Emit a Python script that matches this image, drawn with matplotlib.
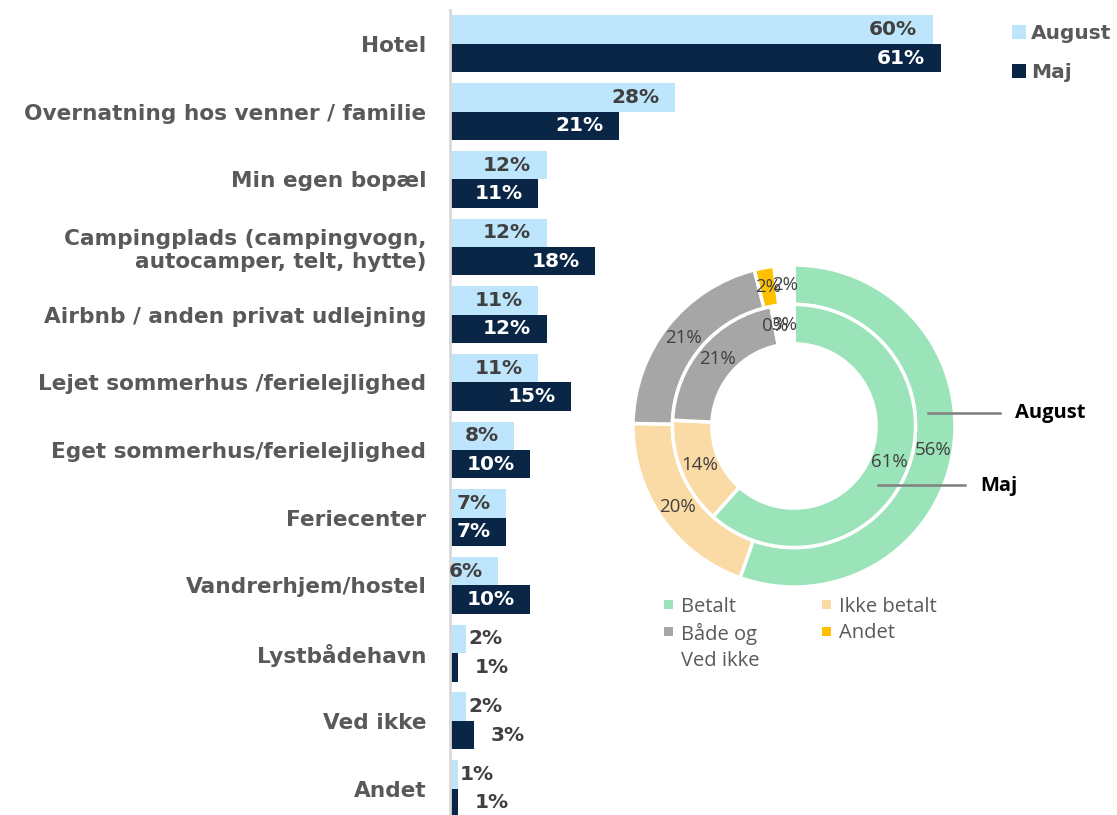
import matplotlib
matplotlib.use("Agg")
import matplotlib.pyplot as plt
from matplotlib.lines import Line2D
from matplotlib.patches import Rectangle
import numpy as np

W, H = 1117, 815

categories = ["Hotel", "Overnatning hos venner / familie", "Min egen bopæl",
              "Campingplads (campingvogn,\nautocamper, telt, hytte)",
              "Airbnb / anden privat udlejning", "Lejet sommerhus /ferielejlighed",
              "Eget sommerhus/ferielejlighed", "Feriecenter", "Vandrerhjem/hostel",
              "Lystbådehavn", "Ved ikke", "Andet"]
august = [60, 28, 12, 12, 11, 11, 8, 7, 6, 2, 2, 1]
maj = [61, 21, 11, 18, 12, 15, 10, 7, 10, 1, 3, 1]

donut_labels = ["Betalt", "Ikke betalt", "Både og\nVed ikke", "Andet", ""]
donut_august = [56, 20, 21, 2, 2]
donut_maj = [61, 14, 21, 0, 3]

C_AUG = "#BDE5FC"
C_MAJ = "#0A2646"
donut_colors = ["#9BE4B9", "#FADBA5", "#A6A6A6", "#FFC000", "#FFFFFF"]
TXT = "#404040"
CAT = "#595959"

BARFONT = "DejaVu Sans"
PIEFONT = "Open Sans"

def fx(x): return x / W
def fy(y): return 1 - y / H

fig = plt.figure(figsize=(W / 100, H / 100), dpi=100)

# ---- bar chart ----
left, right, top, bottom = 450, 1013, 10, 815
ax = fig.add_axes([fx(left), fy(bottom), (right - left) / W, (bottom - top) / H])
n = len(categories)
y = np.arange(n)
bh = 0.42
ba = ax.barh(y - bh / 2, august, height=bh, color=C_AUG, label="August")
bm = ax.barh(y + bh / 2, maj, height=bh, color=C_MAJ, label="Maj")
ax.set_xlim(0, 70)
ax.set_ylim(-0.5 + (bottom - top) / 67.7, -0.5)
ax.set_yticks(y)
ax.set_yticklabels(categories, fontsize=15.6, fontweight="bold", color=CAT,
                   family=BARFONT, linespacing=1.2)
ax.tick_params(axis="y", length=0, pad=17)
ax.set_xticks([])
for s in ["top", "right", "bottom"]:
    ax.spines[s].set_visible(False)
ax.spines["left"].set_color("#D9D9D9")
ax.spines["left"].set_linewidth(2)

for vals, ypos, inside_col, out_pad in [(august, y - bh / 2, TXT, 2), (maj, y + bh / 2, "white", 16)]:
    for v, yy in zip(vals, ypos):
        if v >= 5:
            ax.annotate(f"{v}%", (v, yy), xytext=(-11, 0), textcoords="offset points",
                        ha="right", va="center", fontsize=14.5, fontweight="bold",
                        color=inside_col, family=BARFONT)
        else:
            ax.annotate(f"{v}%", (v, yy), xytext=(out_pad * 0.75, 0), textcoords="offset points",
                        ha="left", va="center", fontsize=14.5, fontweight="bold",
                        color=TXT, family=BARFONT)

fig.legend(handles=[ba, bm], labels=["August", "Maj"], loc="upper left",
           bbox_to_anchor=(fx(994), fy(6)), frameon=False, handlelength=0.7,
           handleheight=0.7, handletextpad=0.25, labelspacing=1.0,
           prop={"family": BARFONT, "size": 14.5, "weight": "bold"}, labelcolor=CAT)

# ---- donut ----
cx, cy, R = 794, 426, 161
pax = fig.add_axes([fx(cx - R), fy(cy + R), 2 * R / W, 2 * R / H])
pax.set_aspect("equal")
pax.axis("off")
w_out, w_in = 0.245, 0.245
pax.pie(donut_august, radius=1.0, colors=donut_colors, startangle=90, counterclock=False,
        wedgeprops=dict(width=w_out, edgecolor="white", linewidth=2.5), normalize=True)
pax.pie(donut_maj, radius=1.0 - w_out, colors=donut_colors, startangle=90, counterclock=False,
        wedgeprops=dict(width=w_in, edgecolor="white", linewidth=2.5), normalize=True)
pax.set_xlim(-1, 1)
pax.set_ylim(-1, 1)

def ring_labels(vals, rmid):
    tot = sum(vals)
    cum = 0
    for v in vals:
        mid = (cum + v / 2) / tot * 360
        cum += v
        a = np.deg2rad(90 - mid)
        pax.text(rmid * np.cos(a), rmid * np.sin(a), f"{v}%", ha="center", va="center",
                 fontsize=13.5, color=TXT, family=PIEFONT)

ring_labels(donut_august, 1 - w_out / 2)
ring_labels(donut_maj, 1 - w_out - w_in / 2)

# annotation lines
fig.add_artist(Line2D([fx(928), fx(1000)], [fy(413), fy(413)], color="#7F7F7F", lw=1.8))
fig.add_artist(Line2D([fx(878), fx(965)], [fy(485), fy(485)], color="#7F7F7F", lw=1.8))
fig.text(fx(1015), fy(413), "August", ha="left", va="center", fontsize=14.5,
         fontweight="bold", color="black", family=PIEFONT)
fig.text(fx(980), fy(486), "Maj", ha="left", va="center", fontsize=14.5,
         fontweight="bold", color="black", family=PIEFONT)

# donut legend (manual, 2 columns)
leg_pos = [(668, 604), (826, 604), (668, 631), (826, 631)]
msz = 9
for i, (mx, my) in enumerate(leg_pos):
    fig.add_artist(Rectangle((fx(mx - msz / 2), fy(my + msz / 2)), msz / W, msz / H,
                             transform=fig.transFigure, facecolor=donut_colors[i],
                             edgecolor="none"))
    lines = donut_labels[i].split("\n")
    for k, line in enumerate(lines):
        fig.text(fx(mx + 13), fy(my + 27 * k), line, ha="left", va="center_baseline",
                 fontsize=14.5, color=CAT, family=PIEFONT)

fig.savefig("out.png", dpi=100)
